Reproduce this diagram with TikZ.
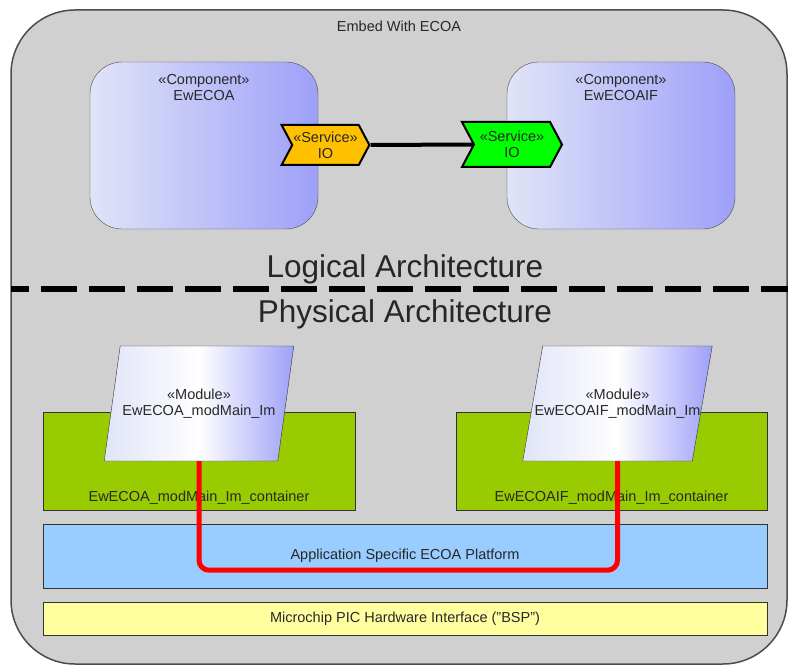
\documentclass[tikz,border=0pt]{standalone}
\usepackage{fontspec}
\setmainfont{Liberation Sans}
\usetikzlibrary{shapes,arrows,positioning}
\definecolor{frameGray}{RGB}{208,208,208}
\definecolor{compLeft}{RGB}{224,228,247}
\definecolor{compRight}{RGB}{158,160,248}
\definecolor{svcYellow}{RGB}{255,192,0}
\definecolor{svcGreen}{RGB}{0,255,0}
\definecolor{contGreen}{RGB}{153,204,0}
\definecolor{platBlue}{RGB}{153,204,255}
\definecolor{bspYellow}{RGB}{255,255,160}
\definecolor{txtGray}{RGB}{40,40,40}

\begin{document}
\begin{tikzpicture}[x=1pt, y=-1pt, font=\fontsize{14.5}{16}\selectfont, text=txtGray,
  comp/.style={draw=black!70, rounded corners=32, left color=compLeft, right color=compRight, minimum width=228, minimum height=167},
  svc/.style={draw=black, line width=2pt, signal, signal from=west, signal to=east, signal pointer angle=124, minimum width=#1, align=center, inner sep=1pt},
  modbox/.style={draw=black!80, trapezium, trapezium left angle=82, trapezium right angle=98, trapezium stretches=true, inner xsep=2pt, inner ysep=42pt, minimum width=190, minimum height=115, left color=compLeft, right color=compRight, middle color=white, align=center},
  contbox/.style={draw=black!80, fill=contGreen, minimum width=312, minimum height=98},
  layer/.style={draw=black!80, fill=#1, minimum width=724},
  bigtitle/.style={font=\fontsize{31.5}{33}\selectfont, text=black!85}]
\useasboundingbox (0,0) rectangle (788,666);

\node[draw=black!70, line width=1.5pt, fill=frameGray, rounded corners=64, minimum width=776, minimum height=654] (frame) at (399,337) {};
\node[below=8pt of frame.north] (embed) {Embed With ECOA};
%============
\node[comp] (cA) at (204,145.5) {};
\node[comp] (cB) at (621,145.5) {};
\node[align=center, below=9pt of cA.north] (cAtxt) {«Component»\\EwECOA};
\node[align=center, below=9pt of cB.north] (cBtxt) {«Component»\\EwECOAIF};
\node[svc=85, fill=svcYellow, minimum height=40] (sA) at (325.5,145) {«Service»\\IO};
\node[svc=100, fill=svcGreen, minimum height=45] (sB) at (512,144.5) {«Service»\\IO};
\draw[line width=4pt] (sA.east) -- (sB.west);
%============
\node[bigtitle] (logical) at (405,269) {Logical Architecture};
\coordinate (dashL) at (11,289);
\coordinate (dashR) at (788,289);
\draw[line width=6pt, dash pattern=on 36pt off 12pt, dash phase=18pt] (dashL) -- (dashR);
\node[bigtitle] (physical) at (405,314) {Physical Architecture};
%============
\node[contbox] (kA) at (199,461) {};
\node[contbox, minimum width=311] (kB) at (611.5,461) {};
\node[above=2pt of kA.south] (kAtxt) {EwECOA\_modMain\_Im\_container};
\node[above=2pt of kB.south] (kBtxt) {EwECOAIF\_modMain\_Im\_container};
\node[layer=platBlue, minimum height=64] (plat) at (405,556) {Application Specific ECOA Platform};
\node[layer=bspYellow, minimum height=33] (bsp) at (405,618.5) {Microchip PIC Hardware Interface ("BSP")};
%============
\node[modbox] (mA) at (199,403.5) {«Module»\\EwECOA\_modMain\_Im};
\node[modbox, inner xsep=-8pt, trapezium left angle=80, trapezium right angle=100] (mB) at (617.5,403.5) {«Module»\\EwECOAIF\_modMain\_Im};
\draw[red, line width=5pt, rounded corners=10] (mA.south) -- ++(0,109) -| (mB.south);

\end{tikzpicture}
\end{document}
